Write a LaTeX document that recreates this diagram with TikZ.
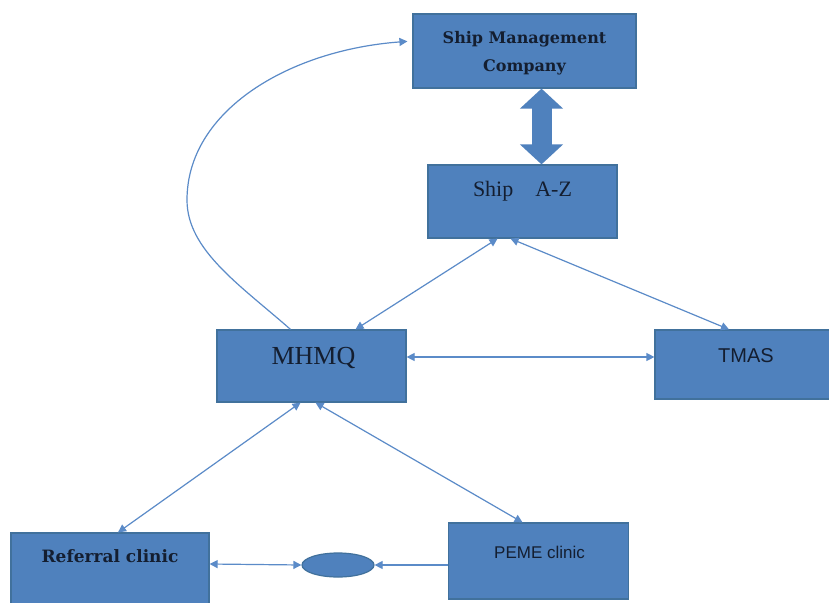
\documentclass[tikz,border=0pt]{standalone}
\usepackage{fontspec}
\setmainfont{Liberation Serif}
\newfontfamily\sansf{Liberation Sans}
\newfontfamily\wideserif{DejaVu Serif}
\usetikzlibrary{arrows.meta,shapes.geometric}
\definecolor{boxfill}{HTML}{4F81BD}
\definecolor{boxline}{HTML}{41719C}
\definecolor{conn}{HTML}{5B8BC8}
\definecolor{txt}{HTML}{141E30}
\tikzset{
  box/.style={rectangle, fill=boxfill, draw=boxline, line width=1.2pt, inner sep=0pt},
  lbl/.style={text=txt, align=center, inner sep=0pt},
  conn/.style={draw=conn, line width=1.2pt},
  both/.style={conn, {Triangle[length=8pt,width=8pt]}-{Triangle[length=8pt,width=8pt]}},
  one/.style={conn, -{Triangle[length=8pt,width=8pt]}},
  bigarrow/.style={draw=boxfill, line width=20pt, {Triangle[length=20pt,width=42pt]}-{Triangle[length=20pt,width=42pt]}}
}
\begin{document}
\begin{tikzpicture}[x=1pt,y=-1pt]
\useasboundingbox (0,0) rectangle (829,602);
\fill[white] (0,0) rectangle (829,602);
% boxes
\node[box, minimum width=223pt, minimum height=74pt,
  label={[lbl, font=\wideserif\bfseries\fontsize{16}{28}\selectfont, yshift=-2pt]center:Ship Management\\Company}] (smc) at (524.5,51) {};
\node[box, minimum width=189pt, minimum height=73pt,
  label={[lbl, font=\fontsize{22}{24}\selectfont, yshift=10pt]center:Ship\quad A-Z}] (ship) at (522.5,201.5) {};
\node[box, minimum width=189pt, minimum height=72pt,
  label={[lbl, font=\fontsize{26}{28}\selectfont, xshift=2pt, yshift=8pt]center:MHMQ}] (mhmq) at (311.5,366) {};
\node[box, minimum width=176pt, minimum height=69pt,
  label={[lbl, font=\sansf\fontsize{20}{24}\selectfont, xshift=3pt, yshift=9pt]center:TMAS}] (tmas) at (743,364.5) {};
\node[box, minimum width=198pt, minimum height=72pt,
  label={[lbl, font=\wideserif\bfseries\fontsize{17}{20}\selectfont, yshift=13pt]center:Referral clinic}] (ref) at (110,569) {};
\node[box, minimum width=180pt, minimum height=76pt,
  label={[lbl, font=\sansf\fontsize{17}{20}\selectfont, xshift=1pt, yshift=9pt]center:PEME clinic}] (peme) at (538.5,561) {};
\node[ellipse, fill=boxfill, draw=boxline, line width=1.2pt, minimum width=72pt, minimum height=24pt, inner sep=0pt] (ell) at (338,565) {};
% connectors
\draw[bigarrow] ([xshift=17pt]smc.south) -- ([xshift=19pt]ship.north);
\draw[both] ([xshift=-25pt]ship.south) -- ([xshift=44pt]mhmq.north);
\draw[both] ([xshift=-12pt]ship.south) -- ([xshift=-14pt]tmas.north);
\draw[both] ([yshift=9pt]mhmq.east) -- ([yshift=7.5pt]tmas.west);
\draw[both] ([xshift=-11pt]mhmq.south) -- ([xshift=8pt]ref.north);
\draw[both] ([xshift=4pt]mhmq.south) -- ([xshift=-16pt]peme.north);
\draw[both] ([yshift=5pt]ref.east) -- (ell.west);
\draw[one] ([yshift=-4pt]peme.west) -- (ell.east);
\coordinate (bend) at (187,200);
\draw[one, shorten >=5pt] ([xshift=-21pt]mhmq.north) .. controls (240,285) and (187,250) .. (bend)
   .. controls (187,110) and (290,50) .. ([yshift=10pt]smc.west);
\end{tikzpicture}
\end{document}
